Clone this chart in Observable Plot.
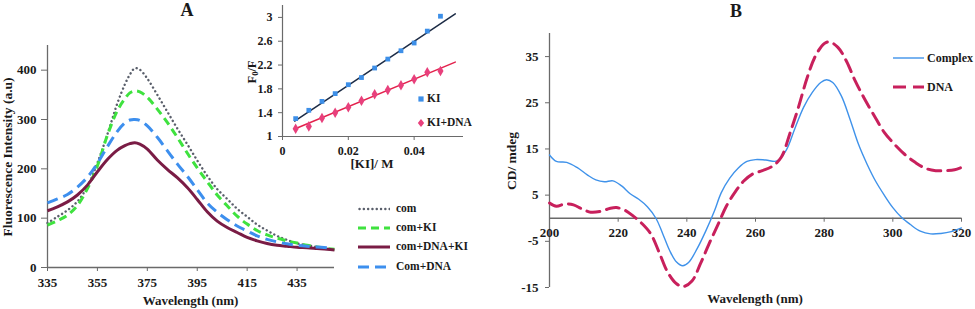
<!DOCTYPE html>
<html>
<head>
<meta charset="utf-8">
<script src="https://cdn.jsdelivr.net/npm/d3@7"></script>
<script src="https://cdn.jsdelivr.net/npm/@observablehq/plot@0.6"></script>
<style>
  html, body { margin: 0; padding: 0; background: #fff; }
  #fig { position: relative; width: 975px; height: 309px; overflow: hidden; background: #fff;
         font-family: "Liberation Serif", "Times New Roman", serif; font-weight: bold; color: #1a1a1a; }
  .t { position: absolute; white-space: nowrap; line-height: 1; transform: translate(-50%, -50%); }
  .t.rot { transform: translate(-50%, -50%) rotate(-90deg); }
  .leg { position: absolute; display: flex; align-items: center; height: 20px; white-space: nowrap; line-height: 1; }
  .leg svg { display: block; }
  sub { font-size: 0.68em; vertical-align: -0.25em; line-height: 0; }
</style>
</head>
<body>
<div id="fig"></div>
<script>
// ---------------- Panel A: fluorescence spectra ----------------
const seriesNamesA = ["com", "com+KI", "com+DNA+KI", "Com+DNA"];
const wavelengthA = [335, 339, 343, 347, 351, 355, 359, 363, 366, 368, 370, 372, 375, 379, 383, 387, 391, 395, 399, 403, 407, 411, 415, 419, 423, 427, 431, 435, 439, 443, 447, 450];
const fluorCom      = [90, 103, 116, 134, 164, 212, 270, 333, 371, 391, 404, 401, 383, 350, 316, 282, 250, 217, 186, 159, 139, 119, 103, 87, 75, 64, 56, 49, 45, 41.5, 38, 36];
const fluorComKI    = [86, 95, 106, 126, 160, 206, 268, 318, 342, 354, 358, 356, 345, 321, 294, 264, 232, 202, 174, 147, 125, 104, 88, 75, 66, 59.5, 54, 49.5, 45, 41.5, 38.5, 37];
const fluorComDnaKI = [115, 123, 133, 147, 167, 194, 219, 238, 247, 251, 253, 250, 240, 218, 199, 182, 162, 138, 113, 94, 81, 71, 61, 54, 48.5, 45, 43, 41, 40, 38.5, 37, 35.5];
const fluorComDna   = [131, 139, 148, 163, 183, 211, 245, 276, 293, 299, 300, 298, 287, 264, 237, 210, 185, 158, 131, 112, 97, 84, 74, 64, 57, 52, 48, 45, 43, 41.5, 40, null];
const ticksAX = [335, 355, 375, 395, 415, 435];
const ticksAY = [0, 100, 200, 300, 400];

// ---------------- Panel A inset: Stern–Volmer ----------------
const insetSeries = ["KI", "KI+DNA"];
const kiConc   = [0.004, 0.008, 0.012, 0.016, 0.020, 0.024, 0.028, 0.032, 0.036, 0.040, 0.044, 0.048];
const f0fKI    = [1.30, 1.44, 1.59, 1.72, 1.87, 1.99, 2.15, 2.30, 2.44, 2.57, 2.77, 3.02];
const f0fKIDNA = [1.13, 1.17, 1.31, 1.40, 1.49, 1.60, 1.71, 1.78, 1.86, 1.96, 2.08, 2.10];
const fitConc  = [0.0037, 0.0525];
const fitKI    = [1.26, 3.06];
const fitKIDNA = [1.125, 2.25];
const ticksInsetX = [0, 0.02, 0.04];
const ticksInsetY = [1, 1.4, 1.8, 2.2, 2.6, 3];

// ---------------- Panel B: CD spectra ----------------
const seriesNamesB = ["Complex", "DNA"];
const cdWlComplex = [200, 202, 205, 208, 211, 213.5, 216, 218.5, 221, 223.5, 226, 228.5, 231, 233, 235, 237, 238.8, 240.5, 243, 245.5, 248, 250, 252.5, 255, 257.5, 260, 263, 266.3, 269, 271.5, 274, 276.5, 279, 280.7, 282.5, 285, 287.5, 290, 292.5, 295, 297.5, 300, 302.5, 305, 308, 311, 314, 317, 320];
const cdComplex   = [13.7, 12.3, 12.1, 11.0, 9.4, 8.3, 7.9, 8.1, 7.0, 5.3, 4.1, 2.5, 0.0, -3.4, -7.0, -9.5, -10.3, -9.6, -6.6, -2.8, 1.5, 5.5, 8.7, 10.9, 12.3, 12.7, 12.6, 12.4, 14.8, 19.5, 24.0, 27.2, 29.4, 30.0, 29.4, 26.5, 21.5, 16.0, 11.7, 8.0, 5.0, 2.3, 0.2, -1.3, -2.8, -3.4, -3.3, -2.9, -2.1];
const cdWlDNA = [200, 202, 204.5, 207, 209.5, 212, 215, 217.5, 219.5, 222, 224.5, 227, 229.5, 232, 234.5, 237, 239, 241.5, 244, 246.5, 249, 251.5, 254, 256.5, 259, 262, 265, 267.5, 270, 272.5, 275, 277.5, 280, 281.5, 284, 286.5, 289, 291.5, 294.5, 297.5, 300.5, 303.5, 306.5, 309.5, 312.5, 315.5, 318, 320];
const cdDNA   = [3.3, 2.6, 3.1, 2.9, 2.0, 1.3, 1.5, 2.1, 2.3, 1.7, 0.4, -1.2, -3.4, -7.5, -11.8, -14.2, -14.8, -13.6, -9.8, -5.5, -1.5, 2.6, 5.6, 8.0, 9.5, 10.3, 11.3, 13.2, 18.3, 24.0, 30.3, 35.2, 37.8, 38.2, 37.0, 34.0, 29.8, 26.2, 22.3, 18.6, 16.0, 13.8, 12.1, 10.8, 10.3, 10.3, 10.5, 11.0];
const ticksBX = [200, 220, 240, 260, 280, 300, 320];
const ticksBY = [-15, -5, 5, 15, 25, 35];

// ---------------- styles ----------------
const axisStroke = "#6a6a6a";
const ink = "#1a1a1a";
const styleA = [
  {stroke: "#5a5f6b", width: 2.4, dash: "0.1,4.2", cap: "round"},
  {stroke: "#3fe23f", width: 3, dash: "8,5", cap: "butt"},
  {stroke: "#7a1c45", width: 3, dash: null, cap: "butt"},
  {stroke: "#3d8fee", width: 3, dash: "11,6", cap: "butt"}
];
const valuesA = [fluorCom, fluorComKI, fluorComDnaKI, fluorComDna];
const styleInset = [
  {fill: "#3d8fe8", line: "#1c2b45", symbol: "square", r: 2.7},
  {fill: "#e8407c", line: "#e3214c", symbol: "diamond", r: 3.2}
];
const styleB = [
  {stroke: "#3f92ea", width: 1.4, dash: null},
  {stroke: "#c8205c", width: 3, dash: "13,7"}
];

const fig = document.getElementById("fig");
const svgStyle = (l, t, fs) => `position:absolute;left:${l}px;top:${t}px;background:transparent;overflow:visible;` +
  `font-family:'Liberation Serif','Times New Roman',serif;font-weight:bold;font-size:${fs}px;color:${ink};`;

// Panel A main
const plotA = Plot.plot({
  width: 480, height: 309,
  marginLeft: 47, marginRight: 146, marginTop: 45, marginBottom: 42,
  style: svgStyle(0, 0, 13),
  x: {domain: [335, 450]},
  y: {domain: [0, 450]},
  marks: [
    Plot.ruleX([335], {stroke: axisStroke, strokeWidth: 1.3}),
    Plot.ruleY([0], {stroke: axisStroke, strokeWidth: 1.3}),
    Plot.axisY({ticks: ticksAY, tickSize: 6, tickPadding: 5, tickFormat: d => String(d), label: null, stroke: axisStroke, fill: ink}),
    Plot.axisX({ticks: ticksAX, tickSize: 4, tickPadding: 6, tickFormat: d => String(d), label: null, stroke: axisStroke, fill: ink}),
    ...valuesA.map((vals, i) => Plot.line(vals, {
      x: wavelengthA, y: vals, stroke: styleA[i].stroke, strokeWidth: styleA[i].width,
      strokeDasharray: styleA[i].dash, strokeLinecap: styleA[i].cap, curve: "catmull-rom"
    }))
  ]
});
fig.appendChild(plotA);

// Panel A inset
const insetValues = [f0fKI, f0fKIDNA];
const insetFits = [fitKI, fitKIDNA];
const plotInset = Plot.plot({
  width: 235, height: 175,
  marginLeft: 42, marginRight: 12, marginTop: 5, marginBottom: 39,
  style: svgStyle(240, 0, 12),
  x: {domain: [0, 0.055]},
  y: {domain: [1, 3.2]},
  marks: [
    Plot.ruleX([0], {stroke: axisStroke, strokeWidth: 1.2}),
    Plot.ruleY([1], {stroke: axisStroke, strokeWidth: 1.2}),
    Plot.axisY({ticks: ticksInsetY, tickSize: 4, tickPadding: 6, tickFormat: d => String(d), label: null, stroke: axisStroke, fill: ink}),
    Plot.axisX({ticks: ticksInsetX, tickSize: 4, tickPadding: 6, tickFormat: d => String(d), label: null, stroke: axisStroke, fill: ink}),
    ...insetFits.map((f, i) => Plot.line(f, {x: fitConc, y: f, stroke: styleInset[i].line, strokeWidth: 1.5})),
    ...insetValues.map((v, i) => Plot.dot(v, {x: kiConc, y: v, symbol: styleInset[i].symbol, r: styleInset[i].r, fill: styleInset[i].fill, stroke: "none"}))
  ]
});
fig.appendChild(plotInset);

// Panel B
const valuesB = [[cdWlComplex, cdComplex], [cdWlDNA, cdDNA]];
const plotB = Plot.plot({
  width: 495, height: 309,
  marginLeft: 69, marginRight: 14, marginTop: 33, marginBottom: 22,
  style: svgStyle(480, 0, 13),
  x: {domain: [200, 320], axis: null},
  y: {domain: [-15, 40]},
  marks: [
    Plot.ruleX([200], {stroke: axisStroke, strokeWidth: 1.3}),
    Plot.ruleY([0], {stroke: axisStroke, strokeWidth: 1.3}),
    Plot.ruleX(ticksBX, {x: d => d, y1: 0, y2: 0, insetBottom: -4, stroke: axisStroke}),
    Plot.text(ticksBX, {x: d => d, y: 0, dy: 15, text: d => String(d), fill: ink}),
    Plot.axisY({ticks: ticksBY, tickSize: 4, tickPadding: 7, tickFormat: d => String(d), label: null, stroke: axisStroke, fill: ink}),
    ...valuesB.map(([xs, ys], i) => Plot.line(ys, {
      x: xs, y: ys, stroke: styleB[i].stroke, strokeWidth: styleB[i].width,
      strokeDasharray: styleB[i].dash, curve: "catmull-rom"
    }))
  ]
});
fig.appendChild(plotB);

// ---------------- text labels ----------------
function label(html, cx, cy, size, rot) {
  const d = document.createElement("div");
  d.className = "t" + (rot ? " rot" : "");
  d.style.left = cx + "px"; d.style.top = cy + "px"; d.style.fontSize = size + "px";
  d.innerHTML = html;
  fig.appendChild(d);
}
label("A", 187, 9.5, 18);
label("B", 736, 10.5, 18);
label("Fluorescence Intensity (a.u)", 8, 157, 13.5, true);
label("Wavelength (nm)", 190.5, 300, 13);
label("F<sub>0</sub>/F", 252, 72, 12.5, true);
label("[KI]/ M", 372, 162.5, 13);
label("CD/ mdeg", 512, 161, 13.5, true);
label("Wavelength (nm)", 755, 298, 13);

// ---------------- legends ----------------
function lineLegend(x, y, w, st, text, size, gap) {
  const d = document.createElement("div");
  d.className = "leg";
  d.style.left = x + "px"; d.style.top = (y - 10) + "px"; d.style.fontSize = size + "px";
  const dash = st.dash ? `stroke-dasharray="${st.dash}"` : "";
  d.innerHTML = `<svg width="${w}" height="20"><line x1="${st.cap === 'round' ? 1.5 : 0}" x2="${w}" y1="10" y2="10" stroke="${st.stroke}" stroke-width="${st.width}" ${dash} stroke-linecap="${st.cap || 'butt'}"/></svg><span style="margin-left:${gap}px">${text}</span>`;
  fig.appendChild(d);
}
const legRowsA = [209, 228, 247, 266.5];
seriesNamesA.forEach((n, i) => lineLegend(358, legRowsA[i], 32, styleA[i], n, 11.5, 6));
const legRowsB = [58, 87];
seriesNamesB.forEach((n, i) => lineLegend(893, legRowsB[i], 31, styleB[i], n, 12, 3));

function symLegend(x, y, st, text, size) {
  const d = document.createElement("div");
  d.className = "leg";
  d.style.left = (x - 5) + "px"; d.style.top = (y - 10) + "px"; d.style.fontSize = size + "px";
  const shape = st.symbol === "square"
    ? `<rect x="2.4" y="7.4" width="5.2" height="5.2" fill="${st.fill}"/>`
    : `<polygon points="5,6 8.2,10 5,14 1.8,10" fill="${st.fill}"/>`;
  d.innerHTML = `<svg width="10" height="20">${shape}</svg><span style="margin-left:1.5px">${text}</span>`;
  fig.appendChild(d);
}
const legRowsInset = [99, 122.5];
insetSeries.forEach((n, i) => symLegend(420.5, legRowsInset[i], styleInset[i], n, 11.5));
</script>
</body>
</html>
